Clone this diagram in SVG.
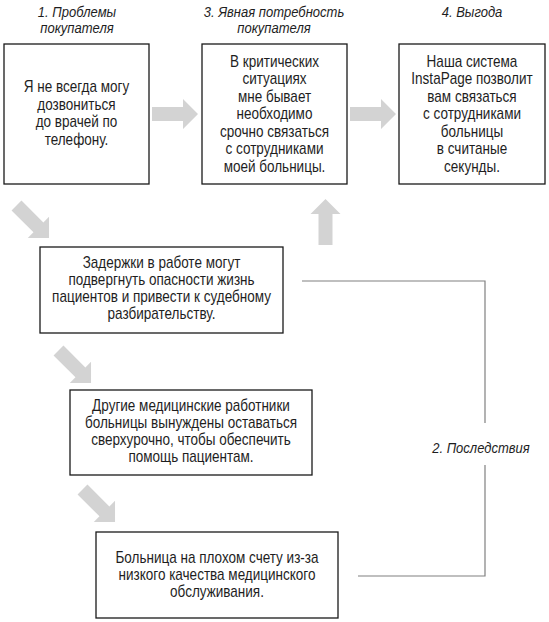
<svg xmlns="http://www.w3.org/2000/svg" xmlns:xlink="http://www.w3.org/1999/xlink" width="549" height="622" viewBox="0 0 549 622">
<style>
  .box { fill: #ffffff; stroke: #1a1a1a; stroke-width: 1.3; }
  .t { font-family: "Liberation Sans", Arial, sans-serif; font-size: 16px; fill: #1e1e1e; text-anchor: middle; }
  .h { font-family: "Liberation Sans", Arial, sans-serif; font-size: 15.5px; font-style: italic; fill: #1e1e1e; text-anchor: middle; }
  .arr { fill: #d3d3d3; }
  .line { fill: none; stroke: #808080; stroke-width: 1.2; }
</style>
<defs>
  <path id="arrow" d="M0,-7 H31 V-15 L46,0 L31,15 V7 H0 Z"/>
</defs>
<rect width="549" height="622" fill="#ffffff"/>

<g id="connectors">
  <use href="#arrow" class="arr" transform="translate(152,114)"/>
  <use href="#arrow" class="arr" transform="translate(350,114)"/>
  <use href="#arrow" class="arr" transform="translate(325.5,245) rotate(-90)"/>
  <use href="#arrow" class="arr" transform="translate(16.5,205.5) rotate(45)"/>
  <use href="#arrow" class="arr" transform="translate(58.5,350.5) rotate(45)"/>
  <use href="#arrow" class="arr" transform="translate(82.5,489.5) rotate(45)"/>
  <polyline class="line" points="302,281 485,281 485,423"/>
  <polyline class="line" points="485,465 485,576 358,576"/>
  <g transform="translate(481,0) scale(0.84,1)">
    <text class="h" x="0" y="453">2. Последствия</text>
  </g>
</g>

<g id="node-problems">
  <g transform="translate(77,0) scale(0.84,1)">
    <text class="h" x="0" y="17">1. Проблемы</text>
    <text class="h" x="0" y="33">покупателя</text>
  </g>
  <rect class="box" x="4" y="44" width="145" height="140"/>
  <g transform="translate(76.5,0) scale(0.845,1)">
    <text class="t" x="0" y="92.5">Я не всегда могу</text>
    <text class="t" x="0" y="110">дозвониться</text>
    <text class="t" x="0" y="127.5">до врачей по</text>
    <text class="t" x="0" y="145">телефону.</text>
  </g>
</g>

<g id="node-need">
  <g transform="translate(274,0) scale(0.84,1)">
    <text class="h" x="0" y="17">3. Явная потребность</text>
    <text class="h" x="0" y="33">покупателя</text>
  </g>
  <rect class="box" x="202" y="44" width="145" height="140"/>
  <g transform="translate(274.5,0) scale(0.845,1)">
    <text class="t" x="0" y="67">В критических</text>
    <text class="t" x="0" y="84.5">ситуациях</text>
    <text class="t" x="0" y="102">мне бывает</text>
    <text class="t" x="0" y="119.5">необходимо</text>
    <text class="t" x="0" y="137">срочно связаться</text>
    <text class="t" x="0" y="154.5">с сотрудниками</text>
    <text class="t" x="0" y="172">моей больницы.</text>
  </g>
</g>

<g id="node-benefit">
  <g transform="translate(472,0) scale(0.84,1)">
    <text class="h" x="0" y="17">4. Выгода</text>
  </g>
  <rect class="box" x="399" y="44" width="146" height="140"/>
  <g transform="translate(472,0) scale(0.845,1)">
    <text class="t" x="0" y="67">Наша система</text>
    <text class="t" x="0" y="84.5">InstaPage позволит</text>
    <text class="t" x="0" y="102">вам связаться</text>
    <text class="t" x="0" y="119.5">с сотрудниками</text>
    <text class="t" x="0" y="137">больницы</text>
    <text class="t" x="0" y="154.5">в считаные</text>
    <text class="t" x="0" y="172">секунды.</text>
  </g>
</g>

<g id="node-delays">
  <rect class="box" x="40" y="247" width="243" height="86"/>
  <g transform="translate(161.5,0) scale(0.845,1)">
    <text class="t" x="0" y="268">Задержки в работе могут</text>
    <text class="t" x="0" y="285">подвергнуть опасности жизнь</text>
    <text class="t" x="0" y="302">пациентов и привести к судебному</text>
    <text class="t" x="0" y="319">разбирательству.</text>
  </g>
</g>

<g id="node-overtime">
  <rect class="box" x="70" y="390" width="242" height="85"/>
  <g transform="translate(191,0) scale(0.845,1)">
    <text class="t" x="0" y="411">Другие медицинские работники</text>
    <text class="t" x="0" y="428">больницы вынуждены оставаться</text>
    <text class="t" x="0" y="445">сверхурочно, чтобы обеспечить</text>
    <text class="t" x="0" y="462">помощь пациентам.</text>
  </g>
</g>

<g id="node-reputation">
  <rect class="box" x="96" y="532" width="242" height="86"/>
  <g transform="translate(217,0) scale(0.845,1)">
    <text class="t" x="0" y="563">Больница на плохом счету из-за</text>
    <text class="t" x="0" y="580">низкого качества медицинского</text>
    <text class="t" x="0" y="597">обслуживания.</text>
  </g>
</g>
</svg>
